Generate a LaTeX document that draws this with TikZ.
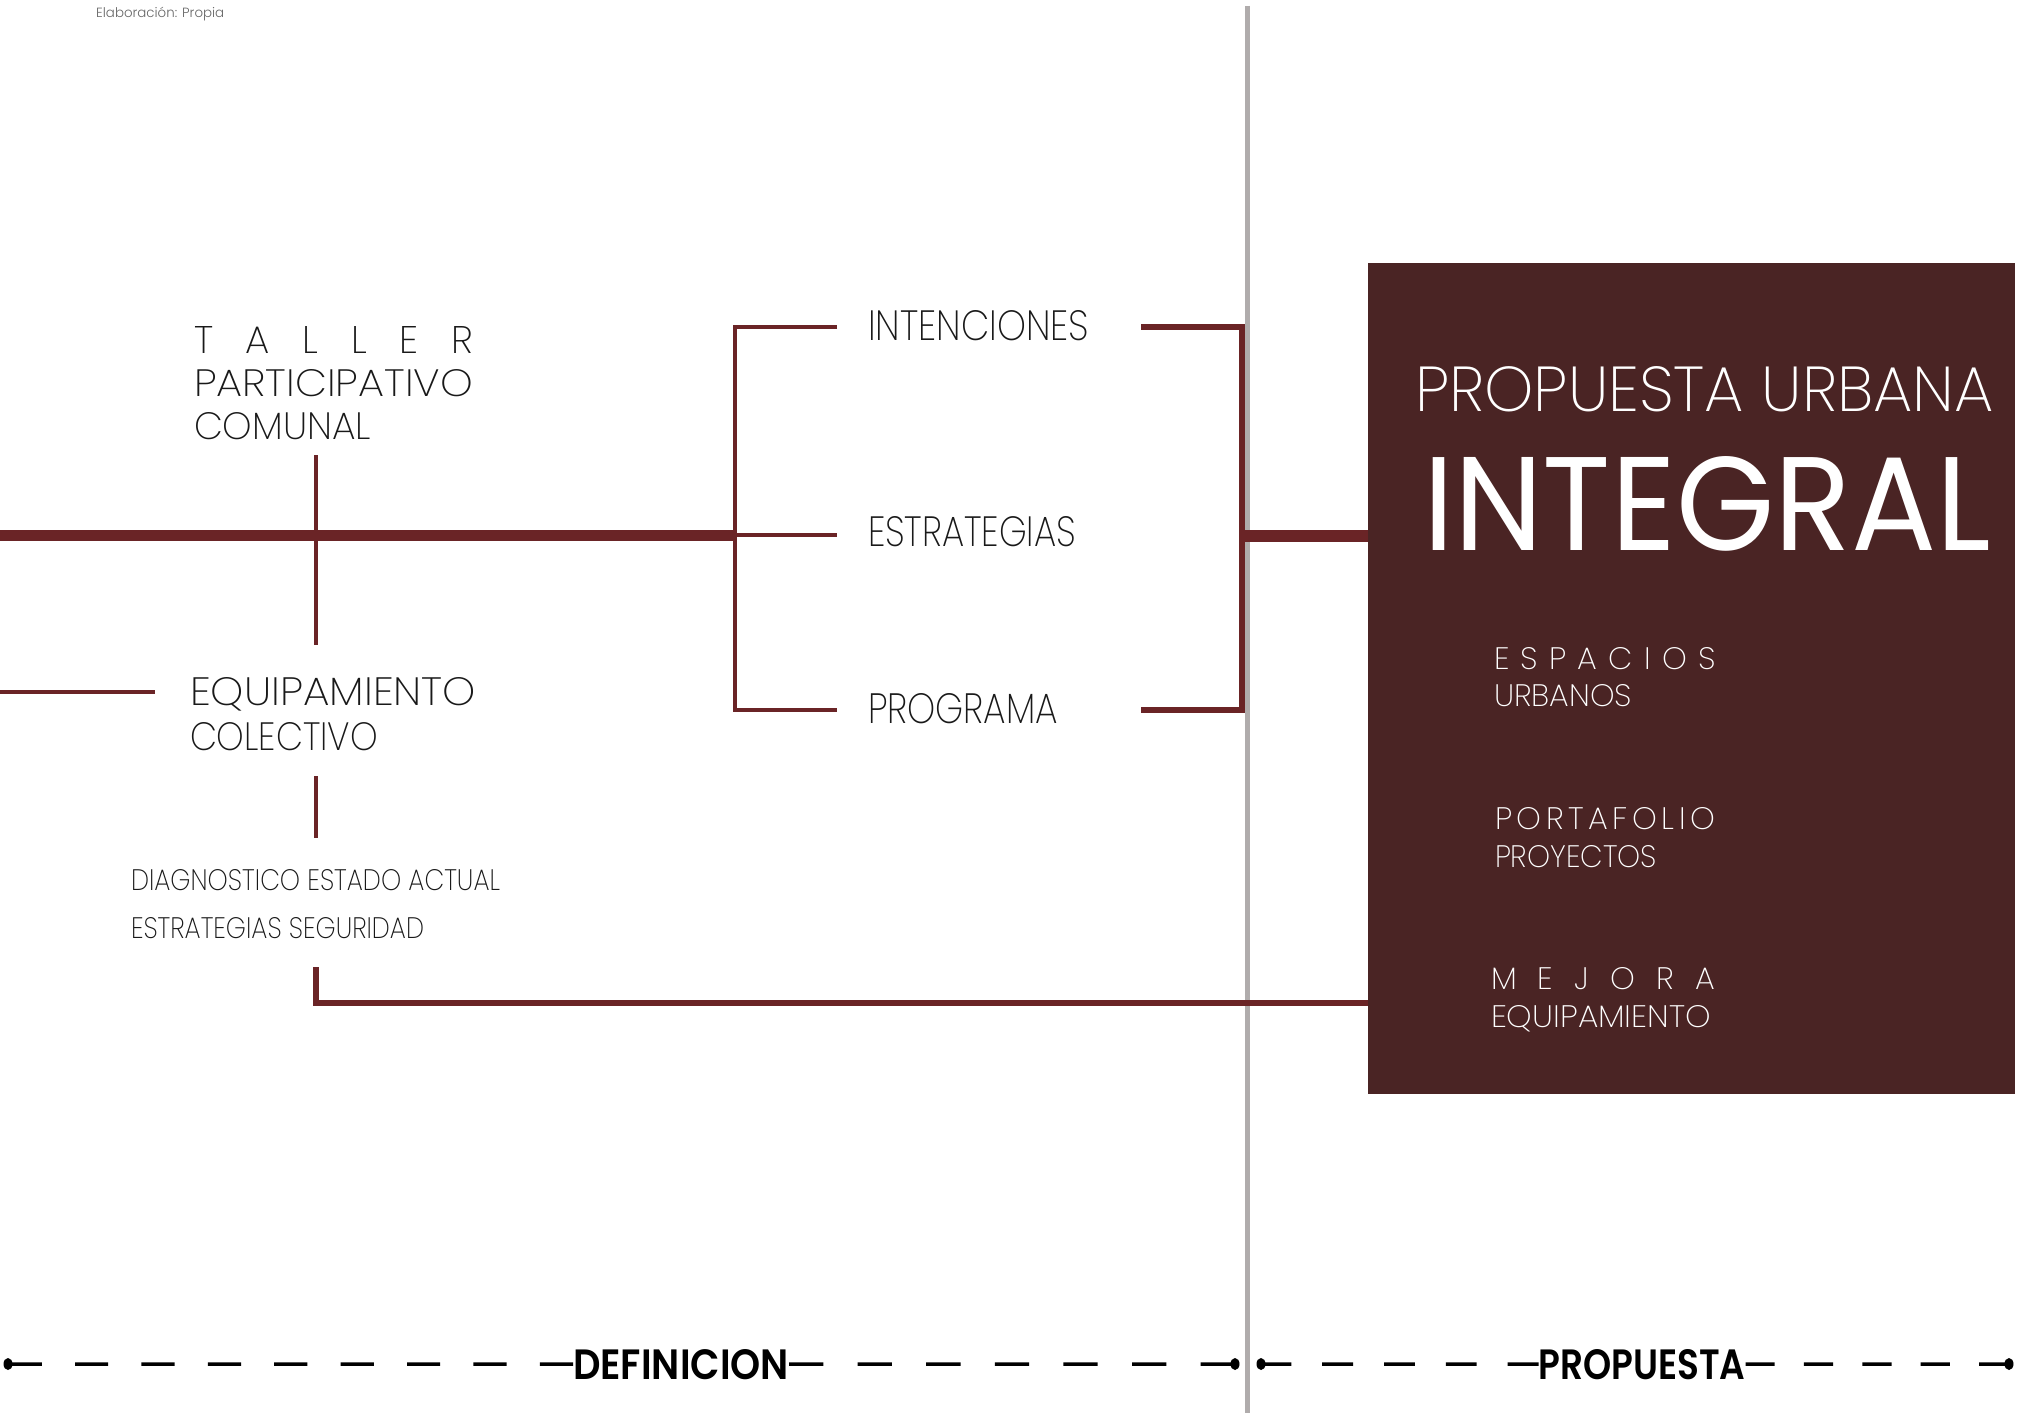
\documentclass[tikz,border=0pt]{standalone}
\usepackage{fontspec}
\usepackage{graphicx}
\setmainfont{Poppins}[UprightFont={* ExtraLight}, BoldFont={* SemiBold}]
\newfontfamily\regf{Poppins}
\newfontfamily\lightf{Poppins Light}
\definecolor{wine}{HTML}{6A2426}
\definecolor{boxc}{HTML}{4A2424}
\definecolor{greyl}{HTML}{B0ACAC}
\newcommand\fitto[3]{\resizebox{#1pt}{#2pt}{\fontsize{\fpeval{1.43*#2}}{\fpeval{1.7*#2}}\selectfont #3}}
\newcommand\spreadit[2]{\makebox[#1pt][s]{#2}}
\tikzset{
  lbl/.style={anchor=base west, inner sep=0pt, outer sep=0pt, text=black!90},
  wl/.style={lbl, text=white},
  conn/.style={draw=wine, line width=4.5pt},
  thinconn/.style={draw=wine, line width=3.4pt},
  mainline/.style={draw=wine, line width=11pt},
  dashline/.style={draw=black, line width=3.5pt},
  bold/.style={anchor=base, inner sep=0pt, outer sep=0pt, text=black},
}
\begin{document}
\begin{tikzpicture}[x=1pt, y=-1pt]
\useasboundingbox (0,0) rectangle (2028,1413);
\fill[white] (0,0) rectangle (2028,1413);

% caption
\node[anchor=base west, inner sep=0pt, text=black!60] (cap) at (96,18) {\resizebox{128pt}{!}{\fontsize{14}{16}\selectfont\lightf Elaboración: Propia}};

% grey divider
\coordinate (gTop) at (1247.5,6);
\coordinate (gBot) at (1247.5,1413);
\draw[greyl, line width=5pt] (gTop) -- (gBot);

% box
\node[fill=boxc, minimum width=647pt, minimum height=831pt, anchor=north west, inner sep=0pt] (box) at (1368,263) {};

% left labels
\node[lbl] (t1) at (194,353) {\fitto{279}{27}{\spreadit{279}{T\hfill A\hfill L\hfill L\hfill E\hfill R}}};
\node[lbl] (t2) at (194,396) {\fitto{279}{27}{PARTICIPATIVO}};
\node[lbl] (t3) at (194,439) {\fitto{177}{27}{COMUNAL}};
\node[lbl] (e1) at (190,705) {\fitto{286}{28}{EQUIPAMIENTO}};
\node[lbl] (e2) at (190,750) {\fitto{188}{28}{COLECTIVO}};
\node[lbl] (d1) at (131,890) {\fitto{369}{21}{DIAGNOSTICO ESTADO ACTUAL}};
\node[lbl] (d2) at (131,938) {\fitto{293}{21}{ESTRATEGIAS SEGURIDAD}};

% middle labels
\node[lbl] (i1) at (868,340) {\fitto{221}{30}{INTENCIONES}};
\node[lbl] (i2) at (868,546) {\fitto{208}{30}{ESTRATEGIAS}};
\node[lbl] (i3) at (868,723) {\fitto{190}{30}{PROGRAMA}};

% box texts
\node[wl] (p1) at (1415,411) {\fitto{579}{45}{PROPUESTA URBANA}};
\node[wl] (p2) at (1423,550) {\fitto{568}{94}{\regf INTEGRAL}};
\node[wl] (s1) at (1494,669) {\fitto{222}{22}{\spreadit{222}{E\hfill S\hfill P\hfill A\hfill C\hfill I\hfill O\hfill S}}};
\node[wl] (s2) at (1494,706) {\fitto{138}{22}{URBANOS}};
\node[wl] (s3) at (1495,829) {\fitto{220}{22}{\spreadit{220}{P\hfill O\hfill R\hfill T\hfill A\hfill F\hfill O\hfill L\hfill I\hfill O}}};
\node[wl] (s4) at (1495,867) {\fitto{162}{22}{PROYECTOS}};
\node[wl] (s5) at (1491,989) {\fitto{224}{22}{\spreadit{224}{M\hfill E\hfill J\hfill O\hfill R\hfill A}}};
\node[wl] (s6) at (1491,1027) {\fitto{220}{22}{EQUIPAMIENTO}};

% coordinates
\coordinate (L0) at (0,535);
\coordinate (bk) at (735,535);
\coordinate (b1k) at (735,327);
\coordinate (b3k) at (735,710);
\coordinate (b1) at (837,327);
\coordinate (b2) at (837,535);
\coordinate (b3) at (837,710);
\coordinate (c1) at (1141,327);
\coordinate (c3) at (1141,710);
\coordinate (c1k) at (1242,327);
\coordinate (c3k) at (1242,710);
\coordinate (ck) at (1242,536);
\coordinate (tTop) at (316,455);
\coordinate (tBot) at (316,645);
\coordinate (eL) at (0,692);
\coordinate (eR) at (155,692);
\coordinate (eTop) at (316,776);
\coordinate (eBot) at (316,838);
\coordinate (dTop) at (316,967);
\coordinate (dK) at (316,1003);

% connectors
\draw[mainline] (L0) -- (bk);
\draw[thinconn] (tTop) -- (tBot);
\draw[conn] (eL) -- (eR);
\draw[thinconn] (eTop) -- (eBot);
\draw[conn] (b1) -- (b1k) -- (b3k) -- (b3);
\draw[conn] (bk) -- (b2);
\draw[draw=wine, line width=5.5pt] (c1) -- (c1k) -- (c3k) -- (c3);
\draw[draw=wine, line width=12pt] (ck) -- (ck -| box.west);
\draw[draw=wine, line width=6pt] (dTop) -- (dK) -- (dK -| box.west);

% bottom timeline
\coordinate (dotA) at (8,1364);
\coordinate (dotB) at (1235,1364);
\coordinate (dotC) at (1261,1364);
\coordinate (dotD) at (2009,1364);
\node[bold] (def) at (681,1379) {\resizebox{216pt}{30pt}{\fontsize{40}{44}\selectfont\bfseries DEFINICION}};
\node[bold] (prop) at (1642,1379) {\resizebox{207pt}{30pt}{\fontsize{40}{44}\selectfont\bfseries PROPUESTA}};
\draw[dashline, dash pattern=on 33.2pt off 33.2pt] (def.west) -- (dotA);
\draw[dashline, dash pattern=on 34.3pt off 34.3pt] (def.east) -- (dotB);
\draw[dashline, dash pattern=on 30.9pt off 30.9pt] (prop.west) -- (dotC);
\draw[dashline, dash pattern=on 29.2pt off 29.2pt] (prop.east) -- (dotD);
\fill[black] (dotA) ellipse (4.5pt and 6pt);
\fill[black] (dotB) ellipse (4.5pt and 6pt);
\fill[black] (dotC) ellipse (4.5pt and 6pt);
\fill[black] (dotD) ellipse (4.5pt and 6pt);
\end{tikzpicture}
\end{document}
